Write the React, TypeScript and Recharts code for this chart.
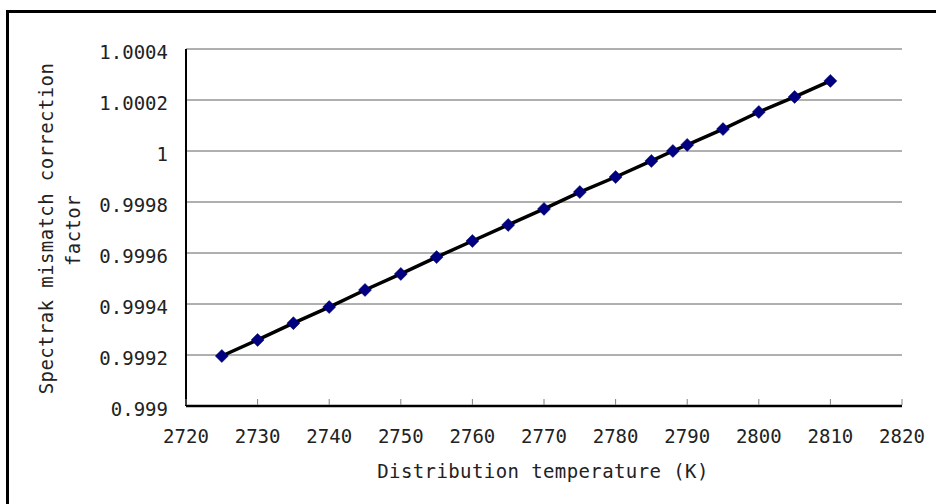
import React from 'react';
import { LineChart, Line, XAxis, YAxis, CartesianGrid } from 'recharts';

const temperatures = [2725, 2730, 2735, 2740, 2745, 2750, 2755, 2760, 2765, 2770, 2775, 2780, 2785, 2788, 2790, 2795, 2800, 2805, 2810];
const correctionFactors = [0.999196, 0.999259, 0.999325, 0.999388, 0.999455, 0.999518, 0.999584, 0.999647, 0.99971, 0.999773, 0.999839, 0.999898, 0.999961, 1.0, 1.000024, 1.000086, 1.000153, 1.000212, 1.000275];
const xTicks = [2720, 2730, 2740, 2750, 2760, 2770, 2780, 2790, 2800, 2810, 2820];
const yTicks = [0.999, 0.9992, 0.9994, 0.9996, 0.9998, 1, 1.0002, 1.0004];
const yTickLabels = ['0.999', '0.9992', '0.9994', '0.9996', '0.9998', '1', '1.0002', '1.0004'];
const xAxisTitle = 'Distribution temperature (K)';
const yAxisTitleLines = ['Spectrak mismatch correction', 'factor'];

const data = temperatures.map((t, i) => ({ t, v: correctionFactors[i] }));

const FONT = '"DejaVu Sans Mono", monospace';

const Diamond = (props: any) => {
  const { cx, cy } = props;
  if (cx == null || cy == null) return null;
  const r = 6.5;
  return (
    <polygon
      points={`${cx},${cy - r} ${cx + r},${cy} ${cx},${cy + r} ${cx - r},${cy}`}
      fill="#000080"
      stroke="#000060"
      strokeWidth={0.5}
    />
  );
};

const XTick = (props: any) => {
  const { x, y, payload } = props;
  return (
    <g>
      <line x1={x} y1={y - 1} x2={x} y2={y - 7} stroke="#808080" strokeWidth={1} />
      <text x={x} y={y + 37} textAnchor="middle" fontFamily={FONT} fontSize={19} fill="#222">
        {payload.value}
      </text>
    </g>
  );
};

const YTick = (props: any) => {
  const { x, y, payload } = props;
  const idx = yTicks.findIndex((v) => Math.abs(v - payload.value) < 1e-9);
  const label = idx >= 0 ? yTickLabels[idx] : String(payload.value);
  return (
    <text x={x - 18} y={y + 9.5} textAnchor="end" fontFamily={FONT} fontSize={19} fill="#222">
      {label}
    </text>
  );
};

const XTitle = (props: any) => {
  const vb = props.viewBox || {};
  const cx = vb.x + vb.width / 2;
  return (
    <text x={cx - 1} y={vb.y + 72} textAnchor="middle" fontFamily={FONT} fontSize={19} letterSpacing={0.4} fill="#222">
      {xAxisTitle}
    </text>
  );
};

const YTitle = (props: any) => {
  const vb = props.viewBox || {};
  const cy = vb.y + vb.height / 2 + 1;
  const cx = 53;
  return (
    <text
      transform={`rotate(-90 ${cx} ${cy})`}
      x={cx}
      y={cy}
      textAnchor="middle"
      fontFamily={FONT}
      fontSize={19}
      letterSpacing={0.4}
      fill="#222"
    >
      <tspan x={cx} y={cy}>{yAxisTitleLines[0]}</tspan>
      <tspan x={cx - 2} y={cy + 27}>{yAxisTitleLines[1]}</tspan>
    </text>
  );
};

export default function App() {
  return (
    <div style={{ position: 'absolute', left: 0, top: 0, width: 936, height: 504, overflow: 'hidden', background: '#fff' }}>
      <div
        style={{
          position: 'absolute',
          left: 6,
          top: 10,
          width: 1200,
          height: 800,
          borderLeft: '3px solid #000',
          borderTop: '3px solid #000',
        }}
      />
      <div style={{ position: 'absolute', left: 0, top: 0 }}>
        <LineChart width={936} height={504} data={data} margin={{ top: 49, right: 34, left: 0, bottom: 0 }}>
          <CartesianGrid vertical={false} stroke="#606060" strokeWidth={1} />
          <XAxis
            xAxisId={0}
            dataKey="t"
            type="number"
            domain={[2720, 2820]}
            ticks={xTicks}
            height={98}
            tickSize={0}
            tickMargin={0}
            tickLine={false}
            tick={<XTick />}
            axisLine={{ stroke: '#000', strokeWidth: 2.5 }}
            interval={0}
            label={<XTitle />}
          />
          <XAxis
            xAxisId="top"
            orientation="top"
            dataKey="t"
            type="number"
            domain={[2720, 2820]}
            height={0}
            tick={false}
            tickLine={false}
            axisLine={{ stroke: '#000', strokeWidth: 2 }}
          />
          <YAxis
            yAxisId={0}
            type="number"
            domain={[0.999, 1.0004]}
            ticks={yTicks}
            width={186}
            tickSize={0}
            tickMargin={0}
            tickLine={false}
            tick={<YTick />}
            axisLine={{ stroke: '#000', strokeWidth: 2 }}
            interval={0}
            label={<YTitle />}
          />
          <YAxis
            yAxisId="right"
            orientation="right"
            type="number"
            domain={[0.999, 1.0004]}
            width={0}
            tick={false}
            tickLine={false}
            axisLine={{ stroke: '#000', strokeWidth: 2 }}
          />
          <Line
            xAxisId={0}
            yAxisId={0}
            dataKey="v"
            stroke="none"
            dot={<Diamond />}
            activeDot={false}
            isAnimationActive={false}
          />
          <Line
            xAxisId={0}
            yAxisId={0}
            dataKey="v"
            type="linear"
            stroke="#000"
            strokeWidth={3.5}
            dot={false}
            activeDot={false}
            isAnimationActive={false}
          />
        </LineChart>
      </div>
    </div>
  );
}
